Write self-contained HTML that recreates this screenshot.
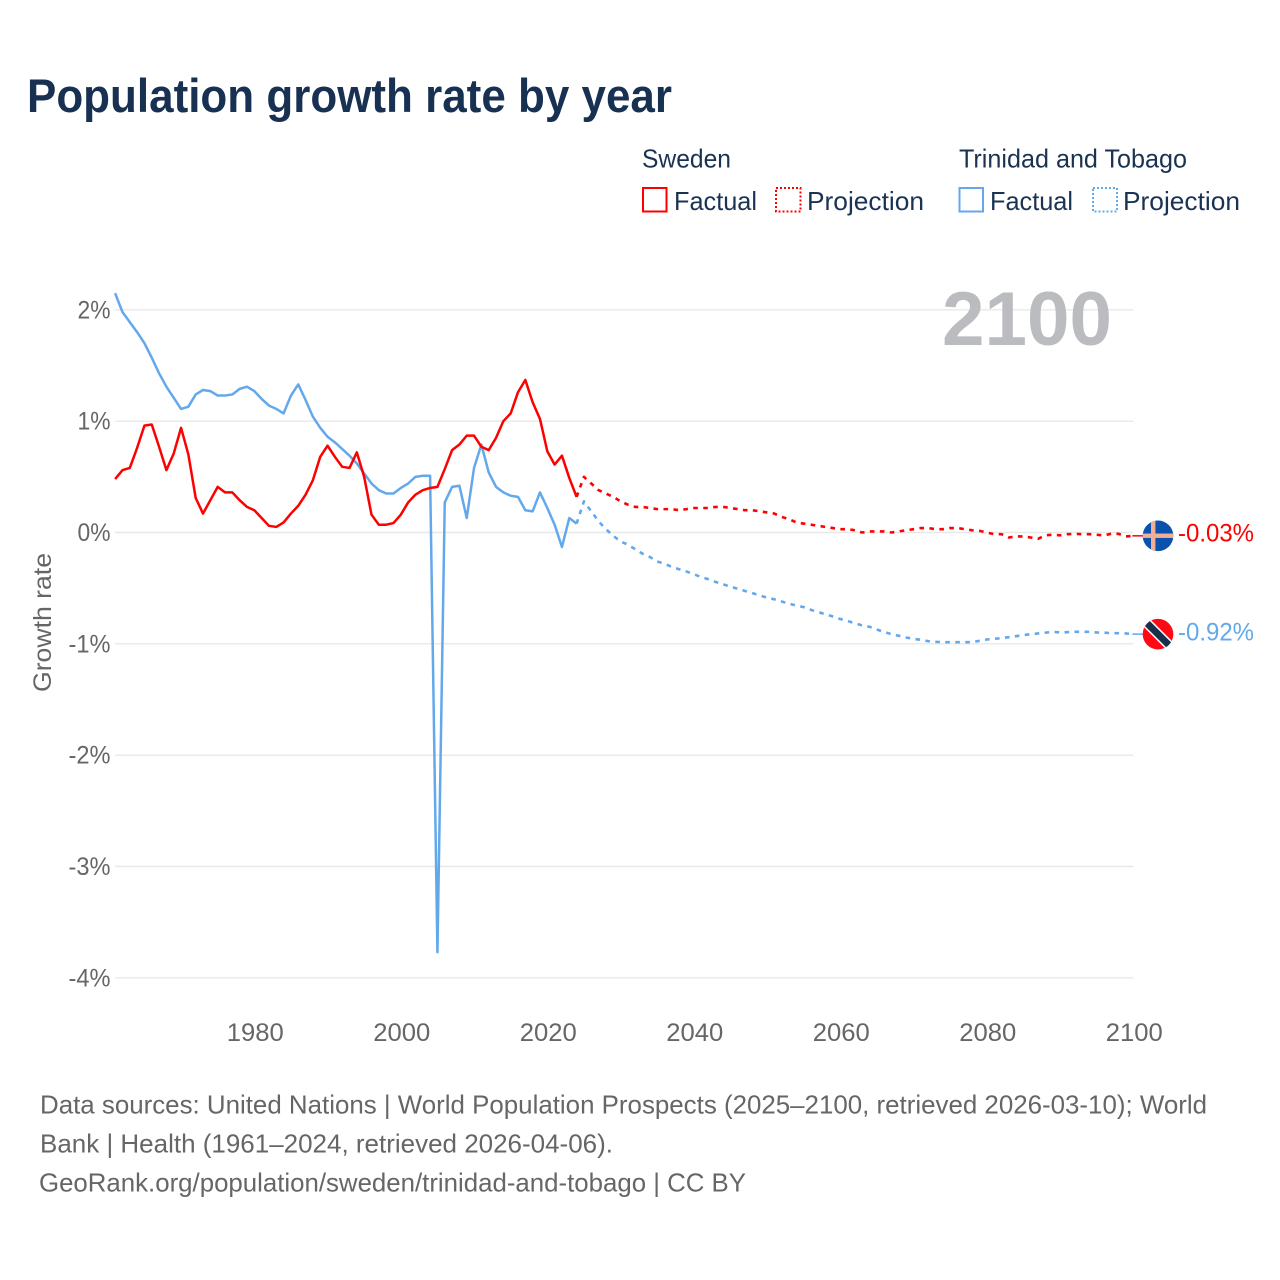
<!DOCTYPE html>
<html lang="en">
<head>
<meta charset="utf-8">
<title>Population growth rate by year</title>
<style>
html,body{margin:0;padding:0;background:#fff;}
svg{display:block;font-family:"Liberation Sans",sans-serif;}
</style>
</head>
<body>
<svg id="chart" xmlns="http://www.w3.org/2000/svg" width="1280" height="1280" viewBox="0 0 1280 1280">
  <defs>
    <clipPath id="flag-clip-a"><circle cx="0" cy="0" r="15.3"/></clipPath>
  </defs>
  <rect x="0" y="0" width="1280" height="1280" fill="#ffffff"/>
  <text x="27" y="112" font-size="47" font-weight="700" fill="#183152" textLength="645" lengthAdjust="spacingAndGlyphs">Population growth rate by year</text>

  <g font-size="26" fill="#1b3353">
    <text x="642" y="167.5" textLength="89" lengthAdjust="spacingAndGlyphs">Sweden</text>
    <rect x="643" y="188" width="23.5" height="23.5" fill="none" stroke="#ff0000" stroke-width="2"/>
    <text x="674" y="210" textLength="83" lengthAdjust="spacingAndGlyphs">Factual</text>
    <rect x="776" y="188" width="24.5" height="23.5" fill="none" stroke="#ff0000" stroke-width="2" stroke-dasharray="2 2"/>
    <text x="807" y="210" textLength="117" lengthAdjust="spacingAndGlyphs">Projection</text>
    <text x="959" y="167.5" textLength="228" lengthAdjust="spacingAndGlyphs">Trinidad and Tobago</text>
    <rect x="959.5" y="188" width="23.5" height="23.5" fill="none" stroke="#64a8ec" stroke-width="2"/>
    <text x="990" y="210" textLength="83" lengthAdjust="spacingAndGlyphs">Factual</text>
    <rect x="1093" y="188" width="24" height="23.5" fill="none" stroke="#64a8ec" stroke-width="2" stroke-dasharray="2 2"/>
    <text x="1123" y="210" textLength="117" lengthAdjust="spacingAndGlyphs">Projection</text>
  </g>

  <g id="grid"></g>
  <g id="yticks" font-size="25" fill="#666666"></g>
  <g id="xticks" font-size="25" fill="#666666"></g>
  <text transform="translate(51,692) rotate(-90)" font-size="25" fill="#666666" textLength="139" lengthAdjust="spacingAndGlyphs">Growth rate</text>
  <text x="942" y="345" font-size="76" font-weight="700" fill="#bbbcbf" textLength="170" lengthAdjust="spacingAndGlyphs">2100</text>

  <g id="series" fill="none" stroke-linejoin="round"></g>

  <g id="flag-sweden">
    <circle cx="0" cy="0" r="15.3" fill="#0a52ad"/>
    <g clip-path="url(#flag-clip-a)">
      <rect x="-7" y="-16" width="4.4" height="32" fill="#f5ae96"/>
      <rect x="-16" y="-2.3" width="32" height="4.4" fill="#f5ae96"/>
    </g>
  </g>
  <g id="flag-trinidad">
    <circle cx="0" cy="0" r="15.3" fill="#ff0a14"/>
    <g clip-path="url(#flag-clip-a)">
      <line x1="-16" y1="-16" x2="16" y2="16" stroke="#ffffff" stroke-width="10"/>
      <line x1="-16" y1="-16" x2="16" y2="16" stroke="#1b2f4d" stroke-width="7"/>
    </g>
  </g>
  <text id="end-sweden" x="1178" font-size="25" fill="#ff0000" textLength="76" lengthAdjust="spacingAndGlyphs"></text>
  <text id="end-trinidad" x="1178" font-size="25" fill="#64a8ec" textLength="76" lengthAdjust="spacingAndGlyphs"></text>

  <g font-size="26" fill="#666666">
    <text x="40" y="1113.5" textLength="1167" lengthAdjust="spacingAndGlyphs">Data sources: United Nations | World Population Prospects (2025–2100, retrieved 2026-03-10); World</text>
    <text x="40" y="1152.5" textLength="573" lengthAdjust="spacingAndGlyphs">Bank | Health (1961–2024, retrieved 2026-04-06).</text>
    <text x="39" y="1191.5" textLength="707" lengthAdjust="spacingAndGlyphs">GeoRank.org/population/sweden/trinidad-and-tobago | CC BY</text>
  </g>
</svg>
<script>
const factualStartYear = 1961;
const projectionStartYear = 2024;
const xTickYears = [1980, 2000, 2020, 2040, 2060, 2080, 2100];
const xTickLabels = ["1980", "2000", "2020", "2040", "2060", "2080", "2100"];
const yTickValues = [2, 1, 0, -1, -2, -3, -4];
const yTickLabels = ["2%", "1%", "0%", "-1%", "-2%", "-3%", "-4%"];
const endLabels = ["-0.03%", "-0.92%"];

const swedenFactual = [0.48,0.56,0.58,0.76,0.96,0.97,0.77,0.56,0.71,0.94,0.70,0.31,0.17,0.29,0.41,0.36,0.36,0.29,0.23,0.20,0.13,0.06,0.05,0.09,0.17,0.24,0.34,0.47,0.68,0.78,0.68,0.59,0.58,0.72,0.50,0.16,0.07,0.07,0.085,0.16,0.27,0.34,0.38,0.40,0.41,0.57,0.74,0.79,0.87,0.87,0.77,0.74,0.85,1.00,1.07,1.26,1.37,1.17,1.02,0.73,0.61,0.69,0.49,0.32];
const swedenProjection = [0.32,0.50,0.44,0.38,0.35,0.32,0.28,0.25,0.23,0.23,0.22,0.21,0.21,0.21,0.20,0.21,0.22,0.22,0.22,0.23,0.23,0.22,0.21,0.20,0.20,0.19,0.18,0.17,0.14,0.12,0.09,0.08,0.07,0.06,0.05,0.04,0.03,0.03,0.02,0.00,0.01,0.01,0.01,0.00,0.01,0.02,0.03,0.04,0.04,0.03,0.03,0.04,0.04,0.03,0.02,0.015,0,-0.015,-0.015,-0.045,-0.035,-0.035,-0.045,-0.057,-0.025,-0.02,-0.025,-0.015,-0.012,-0.015,-0.015,-0.02,-0.027,-0.01,-0.012,-0.035,-0.03];
const trinidadFactual = [2.15,1.98,1.89,1.80,1.70,1.57,1.43,1.31,1.21,1.11,1.13,1.24,1.28,1.27,1.23,1.23,1.24,1.29,1.31,1.27,1.20,1.14,1.11,1.07,1.23,1.33,1.19,1.04,0.94,0.86,0.81,0.75,0.69,0.62,0.53,0.44,0.38,0.35,0.35,0.40,0.44,0.50,0.51,0.51,-3.77,0.27,0.41,0.42,0.13,0.58,0.79,0.54,0.41,0.36,0.33,0.32,0.20,0.19,0.36,0.22,0.07,-0.13,0.13,0.08];
const trinidadProjection = [0.08,0.28,0.19,0.10,0.03,-0.03,-0.08,-0.11,-0.15,-0.19,-0.22,-0.26,-0.28,-0.31,-0.33,-0.35,-0.375,-0.40,-0.42,-0.445,-0.465,-0.487,-0.505,-0.525,-0.545,-0.565,-0.585,-0.60,-0.62,-0.64,-0.655,-0.67,-0.695,-0.715,-0.735,-0.755,-0.777,-0.795,-0.815,-0.835,-0.847,-0.871,-0.895,-0.913,-0.928,-0.943,-0.955,-0.964,-0.976,-0.982,-0.985,-0.985,-0.985,-0.985,-0.985,-0.973,-0.961,-0.955,-0.949,-0.94,-0.931,-0.922,-0.913,-0.907,-0.90,-0.892,-0.898,-0.895,-0.892,-0.892,-0.892,-0.898,-0.90,-0.904,-0.904,-0.907,-0.913];

const SVG_NS = "http://www.w3.org/2000/svg";
const xScale = function (year) { return 254.3 + (year - 1980) * 7.325; };
const yScale = function (value) { return 532.5 - value * 111.33; };
const plotLeft = xScale(1961);
const plotRight = xScale(2100);

const gridGroup = document.getElementById("grid");
const yTickGroup = document.getElementById("yticks");
const xTickGroup = document.getElementById("xticks");
const seriesGroup = document.getElementById("series");

yTickValues.forEach(function (value, i) {
  const line = document.createElementNS(SVG_NS, "line");
  
  
  line.setAttribute("x1", plotLeft);
  line.setAttribute("x2", plotRight);
  line.setAttribute("y1", yScale(value));
  line.setAttribute("y2", yScale(value));
  line.setAttribute("stroke", "#e8e8e8");
  line.setAttribute("stroke-width", "1.4");
  gridGroup.appendChild(line);

  const label = document.createElementNS(SVG_NS, "text");
  
  
  label.setAttribute("x", 110.5);
  label.setAttribute("y", yScale(value) + 8.5);
  label.setAttribute("text-anchor", "end");
  label.setAttribute("textLength", value < 0 ? 42 : 33);
  label.setAttribute("lengthAdjust", "spacingAndGlyphs");
  label.textContent = yTickLabels[i];
  yTickGroup.appendChild(label);
});

xTickYears.forEach(function (year, i) {
  const label = document.createElementNS(SVG_NS, "text");
  
  
  label.setAttribute("x", xScale(year) + 1);
  label.setAttribute("y", 1041);
  label.setAttribute("text-anchor", "middle");
  label.setAttribute("textLength", 57);
  label.setAttribute("lengthAdjust", "spacingAndGlyphs");
  label.textContent = xTickLabels[i];
  xTickGroup.appendChild(label);
});

function pathFrom(values, startYear) {
  return values.map(function (value, i) {
    return (i === 0 ? "M" : "L") + xScale(startYear + i).toFixed(2) + " " + yScale(value).toFixed(2);
  }).join(" ");
}

function addLine(values, startYear, color, dashed, name) {
  const path = document.createElementNS(SVG_NS, "path");
  
  
  path.setAttribute("d", pathFrom(values, startYear));
  path.setAttribute("stroke", color);
  path.setAttribute("stroke-width", dashed ? "2.6" : "2.5");
  if (dashed) {
    path.setAttribute("stroke-dasharray", "4.6 5.4");
  }
  seriesGroup.appendChild(path);
}

function addLeader(lastValue, color, name) {
  const line = document.createElementNS(SVG_NS, "line");
  
  
  line.setAttribute("x1", plotRight - 1);
  line.setAttribute("x2", 1144);
  line.setAttribute("y1", yScale(lastValue));
  line.setAttribute("y2", yScale(lastValue));
  line.setAttribute("stroke", color);
  line.setAttribute("stroke-width", "1.5");
  seriesGroup.appendChild(line);
}

addLine(trinidadFactual, factualStartYear, "#64a8ec", false, "line-trinidad-factual");
addLine(trinidadProjection, projectionStartYear, "#64a8ec", true, "line-trinidad-projection");
addLine(swedenFactual, factualStartYear, "#ff0000", false, "line-sweden-factual");
addLine(swedenProjection, projectionStartYear, "#ff0000", true, "line-sweden-projection");

const swedenLast = swedenProjection[swedenProjection.length - 1];
const trinidadLast = trinidadProjection[trinidadProjection.length - 1];
addLeader(swedenLast, "#ff0000", "leader-sweden");
addLeader(trinidadLast, "#64a8ec", "leader-trinidad");

document.getElementById("flag-sweden").setAttribute("transform", "translate(1158," + yScale(swedenLast) + ")");
document.getElementById("flag-trinidad").setAttribute("transform", "translate(1158," + yScale(trinidadLast) + ")");

const endSweden = document.getElementById("end-sweden");
endSweden.setAttribute("y", yScale(swedenLast) + 5.5);
endSweden.textContent = endLabels[0];
const endTrinidad = document.getElementById("end-trinidad");
endTrinidad.setAttribute("y", yScale(trinidadLast) + 6.5);
endTrinidad.textContent = endLabels[1];
</script>
</body>
</html>
